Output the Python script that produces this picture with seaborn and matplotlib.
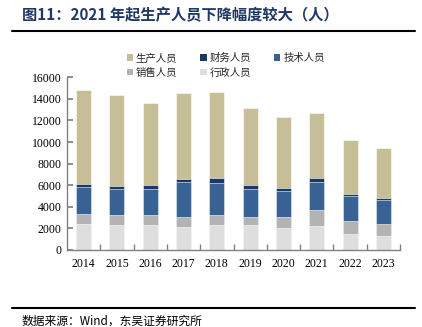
import numpy as np
import pandas as pd
import seaborn as sns
import matplotlib
matplotlib.use("Agg")
import matplotlib.pyplot as plt
from matplotlib.lines import Line2D
from matplotlib.patches import Patch

years = ["2014", "2015", "2016", "2017", "2018", "2019", "2020", "2021", "2022", "2023"]
admin = [2400, 2310, 2340, 2160, 2340, 2280, 2060, 2250, 1510, 1330]        # 行政人员
sales = [900, 900, 900, 920, 900, 770, 960, 1420, 1200, 1050]             # 销售人员
tech = [2500, 2400, 2430, 3200, 2990, 2620, 2470, 2650, 2250, 2220]       # 技术人员
finance = [330, 310, 340, 340, 400, 340, 250, 310, 220, 220]              # 财务人员
production = [8670, 8420, 7580, 7950, 7980, 7150, 6540, 6100, 5050, 4590] # 生产人员

series_names = ["行政人员", "销售人员", "技术人员", "财务人员", "生产人员"]
series_vals = [admin, sales, tech, finance, production]
colors = {"生产人员": "#C5BE97", "财务人员": "#1B3A63", "技术人员": "#386194",
          "销售人员": "#B3B3B3", "行政人员": "#DEDEDE"}

title = "图11：2021 年起生产人员下降幅度较大（人）"
source = "数据来源：Wind，东吴证券研究所"

sns.set_theme(style="white")
plt.rcParams["font.family"] = ["Liberation Serif", "Noto Sans CJK SC", "DejaVu Sans"]

fig = plt.figure(figsize=(4.22, 3.27), dpi=100)
ax = fig.add_axes([67/422, 1-250/327, (400-67)/422, (250-77.3)/327])

cum = np.cumsum(np.array(series_vals), axis=0)
# draw from top (largest cumulative) to bottom so layers overlap into a stack
for i in range(len(series_names) - 1, -1, -1):
    df = pd.DataFrame({"year": years, "value": cum[i]})
    sns.barplot(data=df, x="year", y="value", color=colors[series_names[i]],
                width=0.45, ax=ax, saturation=1, edgecolor="white", linewidth=0.4)

ax.set_ylim(0, 16000)
ax.set_xlim(-0.5, 9.5)
ax.set_yticks(np.arange(0, 16001, 2000))
ax.set_xlabel("")
ax.set_ylabel("")
for s in ["top", "right"]:
    ax.spines[s].set_visible(False)
for s in ["left", "bottom"]:
    ax.spines[s].set_color("#808080")
    ax.spines[s].set_linewidth(1.0)
ax.set_xticks(np.arange(0.5, 9.6, 1.0), minor=True)
ax.tick_params(axis="x", which="major", length=0, labelsize=8.5, pad=6, colors="black")
ax.tick_params(axis="x", which="minor", direction="in", length=4, color="#808080", bottom=True)
ax.tick_params(axis="y", which="major", direction="in", length=4, color="#808080",
               labelsize=8.5, pad=4, left=True, colors="black")
for lab in ax.get_yticklabels() + ax.get_xticklabels():
    lab.set_color("black")

order = ["生产人员", "销售人员", "财务人员", "行政人员", "技术人员"]
handles = [Patch(facecolor=colors[n], edgecolor="none") for n in order]
fig.legend(handles, order, loc="center", bbox_to_anchor=(0.535, 0.80), ncol=3,
           frameon=False, prop={"family": ["Noto Sans CJK SC"], "size": 7.5},
           handlelength=0.6, handleheight=0.6, handletextpad=0.3, columnspacing=2.2,
           labelspacing=0.45)

fig.text(22/422, 0.955, title, ha="left", va="center", fontsize=11, fontweight="bold",
         color="#1F3864", family=["Noto Sans CJK SC", "DejaVu Sans"])
fig.add_artist(Line2D([12/422, 415/422], [1-31/327, 1-31/327], color="black", lw=1.5,
                      transform=fig.transFigure))
fig.add_artist(Line2D([12/422, 415/422], [1-308/327, 1-308/327], color="black", lw=1.5,
                      transform=fig.transFigure))
fig.text(22/422, 1-315/327, source, ha="left", va="top", fontsize=8.5,
         color="black", family=["Noto Sans CJK SC", "DejaVu Sans"], style="italic")

fig.savefig("out.png", dpi=100)
